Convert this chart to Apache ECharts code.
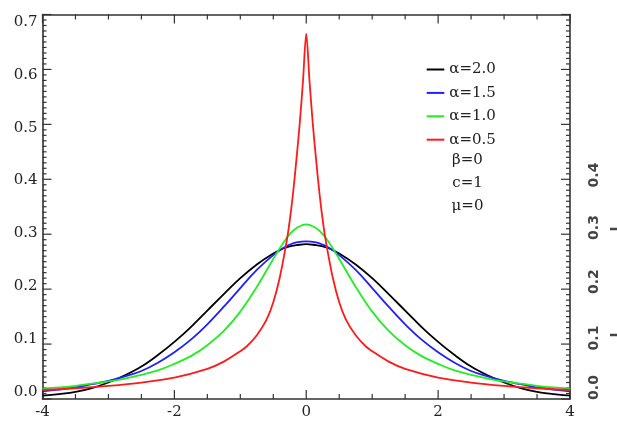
<!DOCTYPE html>
<html>
<head>
<meta charset="utf-8">
<script src="https://cdn.jsdelivr.net/npm/echarts@6/dist/echarts.min.js"></script>
<style>html,body{margin:0;padding:0;background:#fff;}#c{width:617px;height:422px;}</style>
</head>
<body>
<div id="c"></div>
<script>
// x sample positions for the alpha = 2.0, 1.5, 1.0 curves
const xs = [-4,-3.75,-3.5,-3.25,-3,-2.75,-2.5,-2.25,-2,-1.75,-1.5,-1.25,-1,-0.75,-0.5,-0.35,-0.25,-0.15,0,0.15,0.25,0.35,0.5,0.75,1,1.25,1.5,1.75,2,2.25,2.5,2.75,3,3.25,3.5,3.75,4];
// alpha = 2.0 (black)
const alpha20 = [0.006,0.009,0.013,0.020,0.030,0.043,0.059,0.080,0.104,0.131,0.161,0.191,0.220,0.245,0.265,0.274,0.278,0.280,0.282,0.280,0.278,0.274,0.265,0.245,0.220,0.191,0.161,0.131,0.104,0.080,0.059,0.043,0.030,0.020,0.013,0.009,0.006];
// alpha = 1.5 (blue)
const alpha15 = [0.014,0.017,0.021,0.027,0.033,0.041,0.051,0.066,0.085,0.108,0.136,0.168,0.202,0.235,0.262,0.275,0.281,0.285,0.287,0.285,0.281,0.275,0.262,0.235,0.202,0.168,0.136,0.108,0.085,0.066,0.051,0.041,0.033,0.027,0.021,0.017,0.014];
// alpha = 1.0 (green)
const alpha10 = [0.019,0.021,0.024,0.028,0.032,0.037,0.044,0.052,0.064,0.078,0.098,0.124,0.159,0.204,0.255,0.284,0.300,0.311,0.318,0.311,0.300,0.284,0.255,0.204,0.159,0.124,0.098,0.078,0.064,0.052,0.044,0.037,0.032,0.028,0.024,0.021,0.019];
// x sample positions for the alpha = 0.5 curve (denser near the peak)
const xsRed = [-4,-3.5,-3,-2.5,-2,-1.5,-1.25,-1,-0.9,-0.75,-0.6,-0.5,-0.4,-0.3,-0.25,-0.2,-0.15,-0.1,-0.05,0,0.05,0.1,0.15,0.2,0.25,0.3,0.4,0.5,0.6,0.75,0.9,1,1.25,1.5,2,2.5,3,3.5,4];
// alpha = 0.5 (red)
const alpha05 = [0.0165,0.0196,0.024,0.030,0.039,0.055,0.068,0.087,0.096,0.116,0.145,0.176,0.222,0.285,0.325,0.375,0.435,0.500,0.578,0.665,0.578,0.500,0.435,0.375,0.325,0.285,0.222,0.176,0.145,0.116,0.096,0.087,0.068,0.055,0.039,0.030,0.024,0.0196,0.0165];

const seriesNames = ['α=2.0','α=1.5','α=1.0','α=0.5'];
const seriesColors = ['#000000','#2020ff','#22ee22','#ff1a1a'];
const seriesX = [xs, xs, xs, xsRed];
const seriesValues = [alpha20, alpha15, alpha10, alpha05];
const paramLabels = ['β=0','c=1','μ=0'];
const yTickLabels = [0,0.1,0.2,0.3,0.4,0.5,0.6,0.7];
const xMajorTicks = [-4,-2,0,2,4];
const sideLabels = ['0.0','0.1','0.2','0.3','0.4'];

// frame tick marks (major + minor), drawn through the axes' scales
const tickItems = [];
for (let i = 0; i <= 70; i++) tickItems.push([0, i / 100, i % 10 === 0 ? 9 : 4]);
for (let i = -8; i <= 8; i++) tickItems.push([1, i / 2, i % 4 === 0 ? 9 : 5]);

const chart = echarts.init(document.getElementById('c'), null, {renderer:'canvas'});
const serif = 'DejaVu Serif';
function axisLineOpt(){ return {show:true, onZero:false, lineStyle:{color:'#333', width:1.6}}; }

function xAx(pos){
  return {type:'value', min:-4, max:4, interval:2, position:pos,
    axisLine:axisLineOpt(), axisTick:{show:false}, splitLine:{show:false},
    axisLabel:{show:pos==='bottom', fontFamily:serif, fontSize:15, color:'#222', margin:6}};
}
function yAx(pos){
  return {type:'value', min:0, max:0.7, interval:0.1, position:pos,
    axisLine:axisLineOpt(), axisTick:{show:false}, splitLine:{show:false},
    axisLabel:{show:false}};
}

const graphics = [];
paramLabels.forEach((t,i)=>{
  graphics.push({type:'text', x:467.5, y:160+i*23.3, style:{text:t, fontFamily:serif, fontSize:15, fill:'#222', align:'center', verticalAlign:'middle'}});
});
const sideY = [387.5,338,281.7,227.5,175];
sideLabels.forEach((t,i)=>{
  graphics.push({type:'text', x:594, y:sideY[i], rotation:Math.PI/2, style:{text:t, fontFamily:'DejaVu Sans', fontWeight:'bold', fontSize:14, fill:'#444', align:'center', verticalAlign:'middle'}});
});
[229,335].forEach(y=>{
  graphics.push({type:'line', shape:{x1:610, y1:y, x2:617, y2:y}, style:{stroke:'#444', lineWidth:2.5}});
});

function renderTick(params, api){
  const kind = api.value(0), v = api.value(1), len = api.value(2);
  const st = {stroke:'#333', lineWidth:1.2};
  if (kind === 0) {
    const a = api.coord([-4, v]), b = api.coord([4, v]);
    return {type:'group', children:[
      {type:'line', shape:{x1:a[0], y1:a[1], x2:a[0]+len, y2:a[1]}, style:st},
      {type:'line', shape:{x1:b[0], y1:b[1], x2:b[0]-len, y2:b[1]}, style:st}]};
  }
  const c = api.coord([v, 0]), d = api.coord([v, 0.7]);
  return {type:'group', children:[
    {type:'line', shape:{x1:c[0], y1:c[1], x2:c[0], y2:c[1]-len}, style:st},
    {type:'line', shape:{x1:d[0], y1:d[1], x2:d[0], y2:d[1]+len}, style:st}]};
}

const lineSeries = seriesNames.map((n,k)=>({
  name:n, type:'line', xAxisIndex:0, yAxisIndex:0, showSymbol:false, smooth:k===3?0.3:0.4,
  color:seriesColors[k],
  lineStyle:{color:seriesColors[k], width:1.8},
  data:seriesX[k].map((x,i)=>[x, seriesValues[k][i]]),
  z:2+k
}));

chart.setOption({
  animation:false,
  backgroundColor:'#fff',
  grid:{left:42.5, right:47, top:14.5, bottom:23},
  xAxis:[xAx('bottom'), xAx('top')],
  yAxis:[yAx('left'), yAx('right'),
    {type:'value', min:-0.01324, max:0.7142, position:'left',
     axisLine:{show:false, onZero:false}, axisTick:{show:false}, splitLine:{show:false},
     axisLabel:{show:true, customValues:yTickLabels, formatter:v=>v.toFixed(1), fontFamily:serif, fontSize:15, color:'#222', margin:5}}],
  legend:{orient:'vertical', left:421.7, top:57, itemWidth:17.6, itemHeight:2, icon:'rect', itemGap:8.4,
    data:seriesNames, selectedMode:false,
    textStyle:{fontFamily:serif, fontSize:15, color:'#222'}},
  graphic:graphics,
  series:[{type:'custom', name:'ticks', xAxisIndex:0, yAxisIndex:0, silent:true, clip:false, z:1,
    renderItem:renderTick, data:tickItems, encode:{x:1, y:1}}].concat(lineSeries)
});
</script>
</body>
</html>
